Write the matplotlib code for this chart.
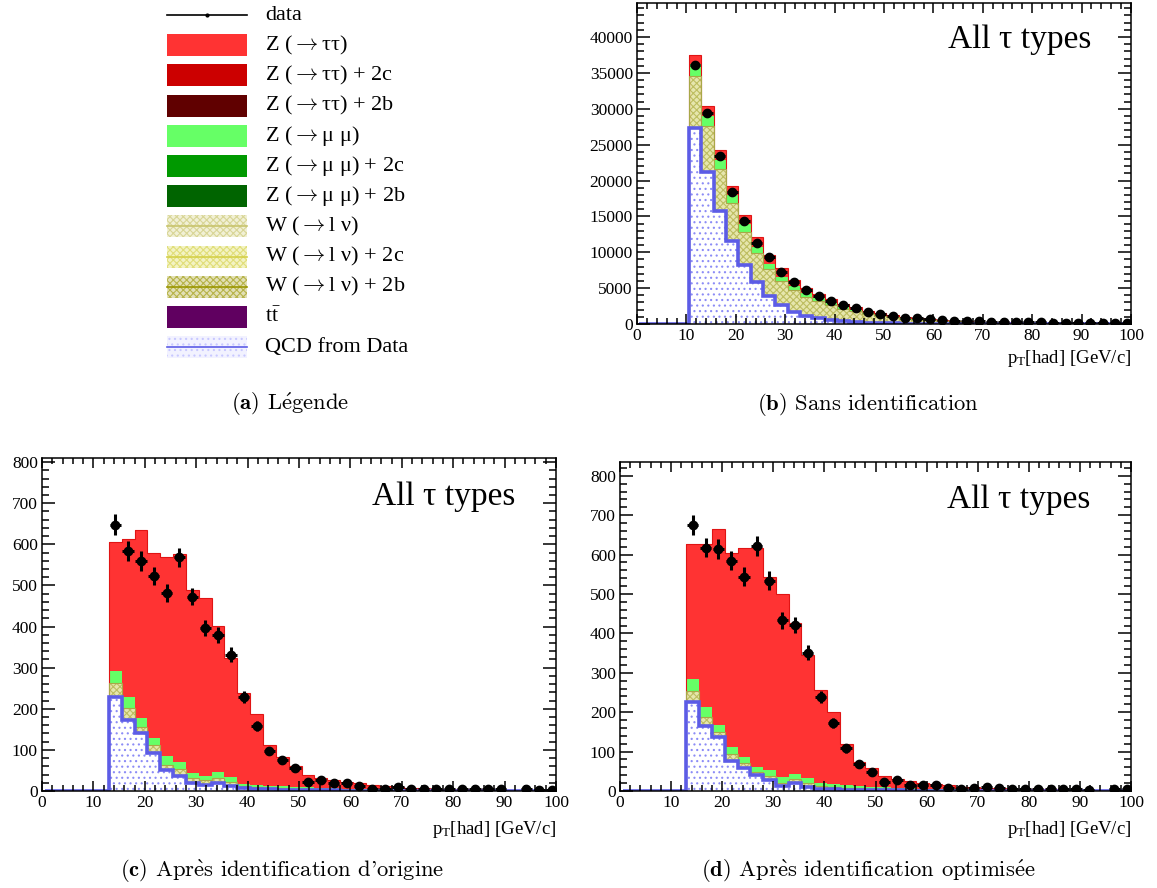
import numpy as np
import matplotlib
matplotlib.use('Agg')
import matplotlib.pyplot as plt
from matplotlib.patches import Rectangle
from matplotlib.ticker import MultipleLocator

plt.rcParams['font.family'] = ['Liberation Serif', 'DejaVu Serif']
plt.rcParams['mathtext.fontset'] = 'custom'
plt.rcParams['mathtext.rm'] = 'Liberation Serif'
plt.rcParams['mathtext.it'] = 'Liberation Serif:italic'
plt.rcParams['hatch.linewidth'] = 0.8

# pT[had] binning: 40 bins of 2.5 GeV/c starting at 0.5
edges = np.arange(0.5, 100.6, 2.5)

# (b) sans identification, bins 4..39
b_first = 4
b_qcd = [27300, 21200, 15800, 11570, 8200, 5800, 3900, 2650, 1700, 1100, 800, 550, 350, 230, 150, 100, 70, 50,
         35, 25, 20, 15, 10, 8, 6, 5, 4, 3, 3, 2, 2, 2, 1, 1, 1, 1]
b_w = [7300, 6400, 5760, 5230, 4670, 4140, 3700, 3350, 3000, 2700, 2450, 2100, 1800, 1520, 1270, 1050, 860, 710,
       585, 485, 400, 335, 280, 237, 204, 175, 151, 132, 117, 103, 93, 83, 75, 67, 61, 55]
b_zmm = [1600, 1400, 1300, 1200, 1030, 860, 760, 600, 600, 500, 310, 250, 230, 200, 160, 130, 110, 90,
         80, 65, 55, 45, 40, 35, 30, 25, 23, 20, 17, 15, 13, 12, 11, 10, 8, 7]
b_ztt = [1300, 1400, 1390, 1300, 1300, 1280, 1240, 1160, 900, 760, 640, 540, 420, 350, 290, 230, 180, 140,
         110, 90, 70, 55, 45, 35, 30, 25, 22, 20, 18, 17, 14, 13, 11, 10, 10, 9]
b_data = [36100, 29400, 23460, 18400, 14300, 11250, 9300, 7300, 5900, 4750, 3950, 3200, 2600, 2180, 1720, 1390,
          1110, 880, 790, 650, 560, 480, 420, 370, 330, 290, 260, 230, 210, 190, 170, 150, 140, 125, 115, 105]

# (c) apres identification d'origine, bins 5..39
c_first = 5
c_qcd = [229, 173, 140, 93, 51, 37, 20, 15, 19, 12, 7, 5, 4, 3, 3, 2, 2, 2, 1, 1, 1, 1, 1, 1, 1,
         0, 0, 0, 0, 0, 0, 0, 0, 0, 0]
c_w = [33, 28, 16, 19, 12, 17, 12, 12, 13, 11, 5, 4, 4, 4, 3, 3, 3, 2, 3, 2, 2, 2, 1, 1, 1, 2, 1, 1, 1, 1,
       1, 1, 1, 1, 1]
c_zmm = [31, 27, 21, 18, 21, 16, 13, 10, 15, 12, 5, 6, 5, 4, 4, 4, 3, 3, 2, 2, 2, 1, 2, 1, 1, 1, 1, 1, 1, 1,
         1, 1, 0, 0, 0]
c_ztt = [312, 385, 458, 448, 484, 506, 444, 433, 354, 288, 221, 172, 99, 71, 52, 30, 23, 20, 17, 14, 10, 8, 6,
         5, 4, 3, 3, 3, 2, 2, 1, 1, 2, 1, 1]
c_data = [648, 584, 560, 523, 482, 568, 473, 396, 379, 331, 229, 158, 98, 75, 57, 23, 27, 20, 20, 13,
          6, 5, 10, 6, 4, 5, 4, 5, 6, 6, 5, 0, 4, 3, 3]

# (d) apres identification optimisee, bins 5..39
d_first = 5
d_qcd = [227, 166, 136, 77, 58, 41, 28, 13, 20, 11, 5, 4, 3, 3, 2, 2, 2, 1, 1, 1, 1, 1, 1, 1, 1,
         0, 0, 0, 0, 0, 0, 0, 0, 0, 0]
d_w = [28, 22, 13, 17, 12, 8, 10, 8, 10, 10, 8, 6, 5, 4, 4, 3, 3, 3, 3, 2, 2, 1, 1, 1, 1, 1, 1, 1, 1, 1,
       1, 1, 1, 1, 1]
d_zmm = [29, 26, 19, 17, 16, 13, 15, 14, 13, 11, 7, 8, 7, 5, 4, 4, 3, 3, 2, 2, 2, 2, 2, 1, 1, 2, 1, 1, 1, 1,
         1, 1, 0, 0, 0]
d_ztt = [343, 413, 496, 492, 532, 556, 489, 465, 383, 312, 236, 182, 104, 62, 48, 29, 23, 18, 15, 12, 9, 7, 5,
         5, 4, 3, 3, 3, 2, 2, 1, 1, 2, 1, 1]
d_data = [675, 618, 614, 584, 544, 621, 534, 433, 422, 351, 238, 172, 108, 69, 47, 24, 28, 15, 14, 14,
          7, 4, 7, 9, 7, 4, 5, 5, 5, 4, 5, 2, 0, 5, 4]

legend_labels = ['data', r'Z ($\rightarrow$ττ)', r'Z ($\rightarrow$ττ) + 2c', r'Z ($\rightarrow$ττ) + 2b',
                 r'Z ($\rightarrow$μ μ)', r'Z ($\rightarrow$μ μ) + 2c', r'Z ($\rightarrow$μ μ) + 2b',
                 r'W ($\rightarrow$l ν)', r'W ($\rightarrow$l ν) + 2c', r'W ($\rightarrow$l ν) + 2b',
                 r't$\bar{\mathrm{t}}$', 'QCD from Data']

C_ZTT = '#ff3333'
C_ZMM = '#66ff66'
C_QCD = '#5c5ce6'


def full(first, vals):
    out = np.zeros(len(edges) - 1)
    out[first:first + len(vals)] = vals
    return out


def draw_panel(ax, first, qcd, w, zmm, ztt, data, ymax, major, minor, xlab_off):
    qcd = full(first, qcd)
    w = full(first, w)
    zmm = full(first, zmm)
    ztt = full(first, ztt)
    data = full(first, data)
    top_w = qcd + w
    top_zmm = top_w + zmm
    top_ztt = top_zmm + ztt

    ax.stairs(qcd, edges, baseline=0, fill=True, facecolor='white', edgecolor='#8c8cf6', hatch='...', lw=0,
              zorder=1)
    ax.stairs(top_w, edges, baseline=qcd, fill=True, facecolor='#e6e6ad', edgecolor='#bdbd60', hatch='xxxxx',
              lw=0, zorder=1)
    ax.stairs(top_zmm, edges, baseline=top_w, fill=True, color=C_ZMM, lw=0, zorder=1)
    ax.stairs(top_ztt, edges, baseline=top_zmm, fill=True, color=C_ZTT, lw=0, zorder=1)
    ax.stairs(top_ztt, edges, baseline=None, color='#e01414', lw=0.8, zorder=1.2)
    ax.stairs(top_w, edges, baseline=None, color='#a8a848', lw=0.8, zorder=1.2)
    ax.stairs(qcd, edges, baseline=0, color=C_QCD, lw=2.6, zorder=1.5)

    centers = 0.5 * (edges[:-1] + edges[1:])
    m = data > 0
    ax.errorbar(centers[m], data[m], yerr=np.sqrt(data[m]), xerr=1.1, fmt='o', color='black', ms=6,
                elinewidth=2.2, capsize=0, zorder=3)

    ax.set_xlim(0, 100)
    ax.set_ylim(0, ymax)
    ax.xaxis.set_major_locator(MultipleLocator(10))
    ax.xaxis.set_minor_locator(MultipleLocator(2))
    ax.yaxis.set_major_locator(MultipleLocator(major))
    ax.yaxis.set_minor_locator(MultipleLocator(minor))
    ax.tick_params(axis='both', which='both', direction='in', top=True, right=True, width=1.1,
                   labelsize=12.5, pad=3)
    ax.tick_params(axis='y', which='major', length=9.5)
    ax.tick_params(axis='y', which='minor', length=5)
    ax.tick_params(axis='x', which='major', length=7.5)
    ax.tick_params(axis='x', which='minor', length=4)
    for s in ax.spines.values():
        s.set_linewidth(1.1)
    ax.text(0.92, 0.885, 'All τ types', transform=ax.transAxes, ha='right', va='center', fontsize=24)
    ax.annotate(r'p$_{\mathrm{T}}$[had] [GeV/c]', xy=(1, 0), xycoords='axes fraction', xytext=(0, xlab_off),
                textcoords='offset points', ha='right', va='center', fontsize=13.5)


fig = plt.figure(figsize=(11.57, 8.88), dpi=100)

ax_b = fig.add_axes([637 / 1157, 1 - 324 / 888, 494 / 1157, 321 / 888])
draw_panel(ax_b, b_first, b_qcd, b_w, b_zmm, b_ztt, b_data, 44740, 5000, 1000, -25)

ax_c = fig.add_axes([42 / 1157, 1 - 791 / 888, 514 / 1157, 333 / 888])
draw_panel(ax_c, c_first, c_qcd, c_w, c_zmm, c_ztt, c_data, 810, 100, 20, -28)

ax_d = fig.add_axes([620 / 1157, 1 - 791 / 888, 511 / 1157, 329 / 888])
draw_panel(ax_d, d_first, d_qcd, d_w, d_zmm, d_ztt, d_data, 835, 100, 20, -28)

# (a) legend panel, coordinates in pixels of the upper-left block
ax_a = fig.add_axes([0, 1 - 444 / 888, 578 / 1157, 444 / 888])
ax_a.set_xlim(0, 578)
ax_a.set_ylim(444, 0)
ax_a.axis('off')

swatch = [
    ('line', None, None),
    ('fill', C_ZTT, None),
    ('fill', '#cc0000', None),
    ('fill', '#600000', None),
    ('fill', C_ZMM, None),
    ('fill', '#009900', None),
    ('fill', '#006400', None),
    ('hatch', '#e8e6ba', '#c8c46c'),
    ('hatch', '#eceb9c', '#d4d048'),
    ('hatch', '#cfcc86', '#9a9600'),
    ('fill', '#600060', None),
    ('qcd', '#f2f2ff', C_QCD),
]
for i, (label, (kind, fc, lc)) in enumerate(zip(legend_labels, swatch)):
    y = 15 + 30.2 * i
    if kind == 'line':
        ax_a.plot([167, 247], [y, y], color='black', lw=1.2)
        ax_a.plot([207], [y], 'o', color='black', ms=2)
    elif kind == 'fill':
        ax_a.add_patch(Rectangle((167, y - 11), 80, 22, facecolor=fc, edgecolor='none'))
    elif kind == 'hatch':
        ax_a.add_patch(Rectangle((167, y - 11), 80, 22, facecolor=fc, edgecolor=lc, hatch='xxxxx', lw=0,
                                 alpha=0.6))
        ax_a.plot([167, 247], [y, y], color=lc, lw=1.2)
    else:
        ax_a.add_patch(Rectangle((167, y - 11), 80, 22, facecolor=fc, edgecolor='#c8c8ff', hatch='...', lw=0))
        ax_a.plot([167, 247], [y, y], color=lc, lw=1.2)
    mf = 'cm' if 'rightarrow' in label else 'custom'
    ax_a.text(265, y, label, va='center', ha='left', fontsize=16, math_fontfamily=mf)

# captions (Computer Modern, accents through mathtext)
cap_font = 'cmr10'
captions = [
    (290, 404, r'$\mathbf{(a)}$ L$\acute{\mathrm{e}}$gende'),
    (868, 404, r'$\mathbf{(b)}$ Sans identification'),
    (282, 871, r"$\mathbf{(c)}$ Apr$\grave{\mathrm{e}}$s identification d'origine"),
    (868, 871, r'$\mathbf{(d)}$ Apr$\grave{\mathrm{e}}$s identification optimis$\acute{\mathrm{e}}$e'),
]
for x, y, t in captions:
    fig.text(x / 1157, 1 - y / 888, t, ha='center', va='center', fontsize=16.3, family=cap_font,
             math_fontfamily='cm')

fig.savefig('out.png', dpi=100)
